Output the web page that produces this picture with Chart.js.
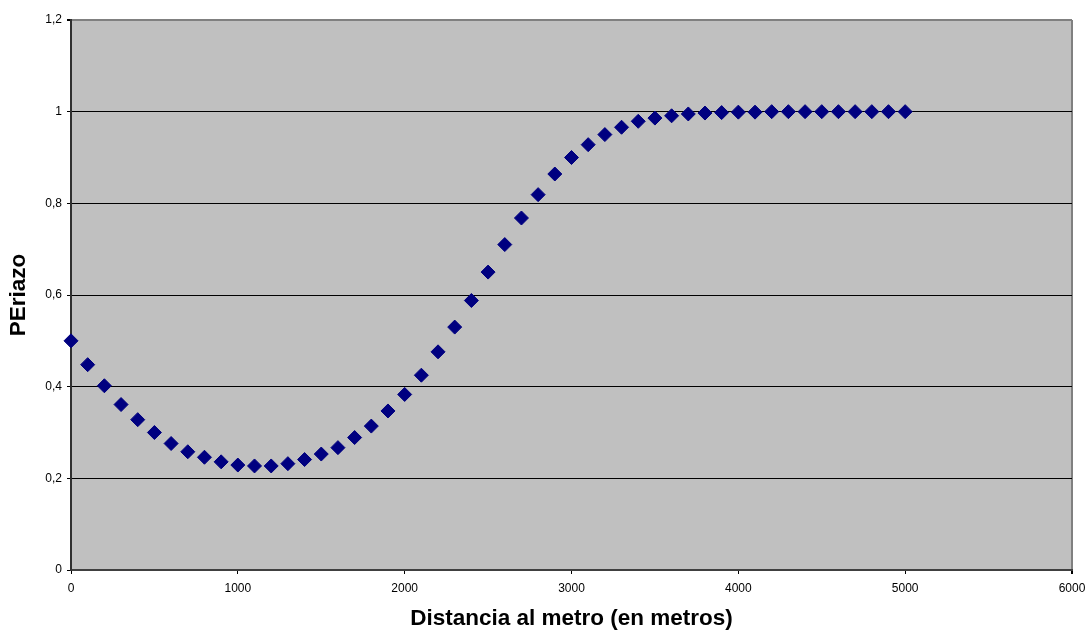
<!DOCTYPE html>
<html>
<head>
<meta charset="utf-8">
<script src="https://cdn.jsdelivr.net/npm/chart.js@4"></script>
<style>
    html, body { margin: 0; padding: 0; background: #fff; }
    #wrap { width: 1085px; height: 631px; }
</style>
</head>
<body>
<div id="wrap"><canvas id="chart"></canvas></div>
<script>
const distancias = [
    0, 100, 200, 300, 400, 500, 600, 700, 800, 900,
    1000, 1100, 1200, 1300, 1400, 1500, 1600, 1700, 1800, 1900,
    2000, 2100, 2200, 2300, 2400, 2500, 2600, 2700, 2800, 2900,
    3000, 3100, 3200, 3300, 3400, 3500, 3600, 3700, 3800, 3900,
    4000, 4100, 4200, 4300, 4400, 4500, 4600, 4700, 4800, 4900, 5000,
];

const periazo = [
    0.500, 0.448, 0.402, 0.361, 0.328, 0.300, 0.276, 0.258, 0.246, 0.236,
    0.229, 0.227, 0.227, 0.232, 0.241, 0.253, 0.267, 0.289, 0.314, 0.347,
    0.383, 0.425, 0.476, 0.530, 0.588, 0.650, 0.710, 0.768, 0.819, 0.864,
    0.900, 0.928, 0.950, 0.966, 0.979, 0.986, 0.991, 0.995, 0.997, 0.998,
    0.999, 0.999, 1.000, 1.000, 1.000, 1.000, 1.000, 1.000, 1.000, 1.000, 1.000,
];

const yTickLabels = ['0', '0,2', '0,4', '0,6', '0,8', '1', '1,2'];
const xTickLabels = ['0', '1000', '2000', '3000', '4000', '5000', '6000'];

const FONT = 'Arial, "Liberation Sans", sans-serif';

// fondo gris del área de trazado
const plotBg = {
    id: 'plotBg',
    beforeDraw(chart) {
        const { ctx, chartArea: a } = chart;
        ctx.save();
        ctx.fillStyle = '#c0c0c0';
        ctx.fillRect(a.left, a.top, a.right - a.left, a.bottom - a.top);
        ctx.restore();
    },
};

new Chart(document.getElementById('chart'), {
    type: 'scatter',
    data: {
        datasets: [{
            data: distancias.map((x, i) => ({ x, y: periazo[i] })),
            pointStyle: 'rectRot',
            pointRadius: 7,
            backgroundColor: '#000080',
            borderColor: '#000080',
            borderWidth: 1,
            clip: false,
        }],
    },
    options: {
        responsive: true,
        maintainAspectRatio: false,
        animation: false,
        layout: { padding: { top: 20, right: 13, bottom: 0, left: 0 } },
        plugins: {
            legend: { display: false },
            tooltip: { enabled: false },
        },
        scales: {
            x: {
                type: 'linear',
                min: 0, max: 6000,
                border: { color: '#404040', width: 2 },
                grid: {
                    drawOnChartArea: true,
                    color: c => c.tick && c.tick.value === 6000 ? '#808080' : 'rgba(0,0,0,0)',
                    lineWidth: c => c.tick && c.tick.value === 6000 ? 2 : 1,
                    tickColor: '#000',
                    tickLength: 4,
                },
                ticks: {
                    stepSize: 1000,
                    color: '#000',
                    padding: 7,
                    maxRotation: 0,
                    font: { family: FONT, size: 12 },
                    callback: (v, i) => xTickLabels[i],
                },
                title: {
                    display: true,
                    text: 'Distancia al metro (en metros)',
                    color: '#000',
                    padding: { top: 0, bottom: -1 },
                    font: { family: FONT, size: 22.5, weight: 'bold' },
                },
                afterFit: s => {
                    s.height = 61;
                    s.paddingLeft = 0;
                    s.paddingRight = 0;
                },
            },
            y: {
                min: 0, max: 1.2,
                border: { color: '#303030', width: 2 },
                grid: {
                    color: c => c.tick && c.tick.value > 1.1 ? '#808080' : '#000',
                    lineWidth: c => c.tick && c.tick.value > 1.1 ? 2 : 1,
                    tickColor: '#000',
                    tickLength: 4,
                },
                ticks: {
                    stepSize: 0.2,
                    color: '#000',
                    padding: 5,
                    font: { family: FONT, size: 12 },
                    callback: (v, i) => yTickLabels[i],
                },
                title: {
                    display: true,
                    text: 'PEriazo',
                    color: '#000',
                    padding: { top: 5, bottom: 0 },
                    font: { family: FONT, size: 22.5, weight: 'bold' },
                },
                afterFit: s => { s.width = 71; },
            },
        },
    },
    plugins: [plotBg],
});
</script>
</body>
</html>
